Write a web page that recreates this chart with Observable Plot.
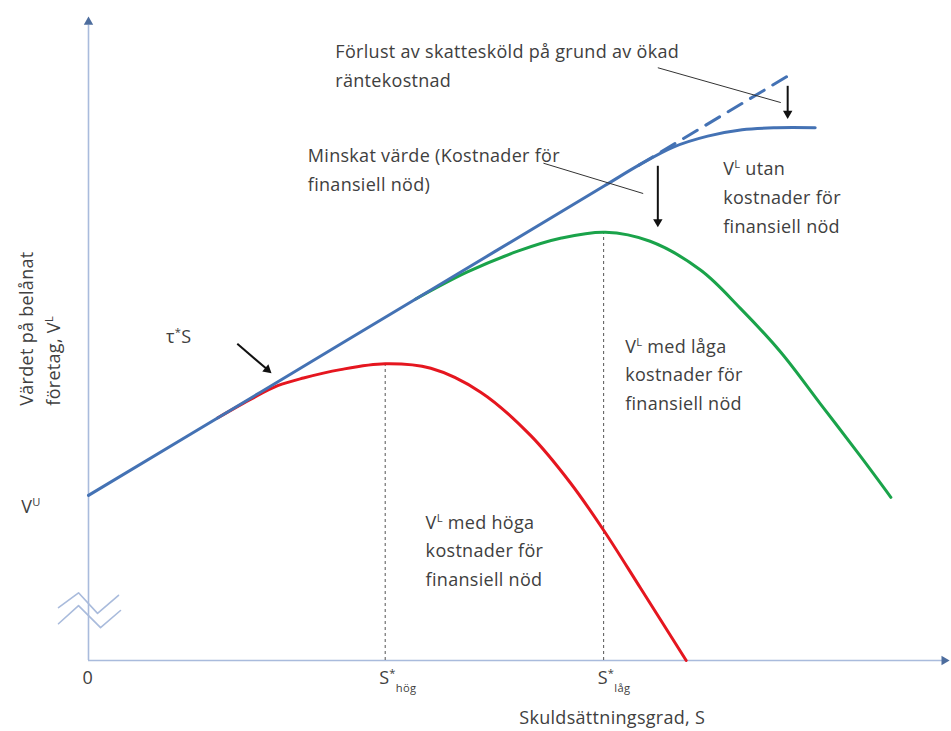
<!DOCTYPE html>
<html>
<head>
<meta charset="utf-8">
<script src="https://cdn.jsdelivr.net/npm/d3@7"></script>
<script src="https://cdn.jsdelivr.net/npm/@observablehq/plot@0.6"></script>
<style>
  html, body { margin: 0; padding: 0; background: #fff; }
  #chart svg { display: block; }
  #chart svg text { letter-spacing: 0.3px; }
</style>
</head>
<body>
<div id="chart"></div>
<script>
// ---- Data (conceptual units: S = skuldsättningsgrad 0–100, V = värde 0–100) ----
const blueS  = [0, 20, 40, 60, 64, 68, 72, 76, 80, 84.5];
const blueV  = [25.6, 41.6, 57.6, 73.6, 76.8, 79.6, 81.3, 82.3, 82.6, 82.6];
const dashS  = [64, 81.3];
const dashV  = [76.8, 90.6];
const greenS = [38, 44, 50, 55, 60.1, 65.3, 71.2, 75.8, 80.5, 85.1, 89.8, 93.3];
const greenV = [56.0, 60.2, 63.5, 65.5, 66.4, 65.0, 60.5, 54.6, 47.8, 39.8, 31.6, 25.3];
const redS   = [15, 19, 22, 25, 29.3, 34.5, 39.8, 45.6, 51.4, 56, 59.9, 64.2, 69.5];
const redV   = [37.6, 40.6, 42.6, 43.8, 45.1, 46.0, 45.3, 41.6, 34.9, 27.6, 20.2, 11.2, 0];
const optimaS = [34.5, 59.9];
const optimaV = [46.0, 66.4];
const tickS = [0, 34.5, 59.9];
const tickLabels = ["0", "S^{*}_{hög}", "S^{*}_{låg}"];
const vuValue = 25.6;
const vuLabel = "V^{U}";
const xTitle = "Skuldsättningsgrad, S";
const yTitle = "Värdet på belånat\nföretag, V^{L}";
const annotations = [
  {x: 28.7, y: 92.6, text: "Förlust av skattesköld på grund av ökad\nräntekostnad"},
  {x: 25.5, y: 76.5, text: "Minskat värde (Kostnader för\nfinansiell nöd)"},
  {x: 73.8, y: 72.2, text: "V^{L} utan\nkostnader för\nfinansiell nöd"},
  {x: 62.4, y: 44.7, text: "V^{L} med låga\nkostnader för\nfinansiell nöd"},
  {x: 39.2, y: 17.4, text: "V^{L} med höga\nkostnader för\nfinansiell nöd"},
  {x: 9.0,  y: 50.7, text: "τ^{*}S"}
];
const arrows = [
  {x1: 17.3, y1: 49.1, x2: 20.8, y2: 45.1},
  {x1: 81.3, y1: 89.1, x2: 81.3, y2: 84.8},
  {x1: 66.2, y1: 76.7, x2: 66.2, y2: 68.0}
];
const leaders = [
  {x1: 66.2, y1: 91.9, x2: 80.5, y2: 86.5},
  {x1: 52.9, y1: 77.1, x2: 64.5, y2: 72.4}
];
const breakA = [[-3.49, 8.2], [-1.16, 10.5], [1.05, 7.3], [3.49, 10.1]];
const breakB = [[-3.49, 5.7], [-1.16, 8.5], [1.40, 5.1], [3.72, 7.75]];

// ---- Scales ----
const X_DOMAIN = [0, 100], X_RANGE = [88, 948];
const Y_DOMAIN = [0, 100], Y_RANGE = [660, 15];
const kx = (X_RANGE[1] - X_RANGE[0]) / (X_DOMAIN[1] - X_DOMAIN[0]);
const ky = (Y_RANGE[1] - Y_RANGE[0]) / (Y_DOMAIN[1] - Y_DOMAIN[0]);

// ---- Tables built from arrays ----
const zip = (xs, ys) => xs.map((x, i) => ({x, y: ys[i]}));
const blue = zip(blueS, blueV);
const dash = zip(dashS, dashV);
const green = zip(greenS, greenV);
const red = zip(redS, redV);
const optima = zip(optimaS, optimaV);
const ticks = tickS.map((x, i) => ({x, label: tickLabels[i]}));
const arrowTips = arrows.map(a => {
  const dx = (a.x2 - a.x1) * kx, dy = (a.y2 - a.y1) * ky;
  return {x: a.x2, y: a.y2, angle: Math.atan2(dx, -dy) * 180 / Math.PI};
});

const FONT = "'Open Sans', Lato, sans-serif";
const TXT = "#404040";
const AXIS = "#a9bbdc";
const FS = 18;

const chart = Plot.plot({
  width: 951,
  height: 731,
  margin: 0,
  style: {fontFamily: FONT, fontSize: FS + "px", background: "#fff", overflow: "visible"},
  x: {domain: X_DOMAIN, range: X_RANGE, axis: null},
  y: {domain: Y_DOMAIN, range: Y_RANGE, axis: null},
  marks: [
    // axes
    Plot.ruleX([0], {y1: 0, y2: 98.5, stroke: AXIS, strokeWidth: 1.6}),
    Plot.ruleY([0], {x1: 0, x2: 99.3, stroke: AXIS, strokeWidth: 1.6}),
    Plot.dot([{x: 0, y: 99}], {x: "x", y: "y", symbol: "triangle2", r: 4.5, fill: "#4d6d9e", stroke: null}),
    Plot.dot([{x: 99.5, y: 0}], {x: "x", y: "y", symbol: "triangle2", r: 4.5, fill: "#4d6d9e", stroke: null, rotate: 90}),
    // axis break
    Plot.line(breakA, {x: d => d[0], y: d => d[1], stroke: AXIS, strokeWidth: 1.6}),
    Plot.line(breakB, {x: d => d[0], y: d => d[1], stroke: AXIS, strokeWidth: 1.6}),
    // dotted optimum lines
    Plot.ruleX(optima, {x: "x", y1: 0, y2: "y", stroke: "#555", strokeWidth: 1, strokeDasharray: "3,3"}),
    // curves
    Plot.line(dash, {x: "x", y: "y", stroke: "#4472b4", strokeWidth: 3, strokeDasharray: "16,10"}),
    Plot.line(green, {x: "x", y: "y", stroke: "#1aa34a", strokeWidth: 3, curve: "catmull-rom"}),
    Plot.line(red, {x: "x", y: "y", stroke: "#e5161f", strokeWidth: 3, curve: "catmull-rom"}),
    Plot.line(blue, {x: "x", y: "y", stroke: "#4472b4", strokeWidth: 3, curve: "catmull-rom"}),
    // leaders and arrows
    Plot.link(leaders, {x1: "x1", y1: "y1", x2: "x2", y2: "y2", stroke: "#333", strokeWidth: 1}),
    Plot.link(arrows, {x1: "x1", y1: "y1", x2: "x2", y2: "y2", stroke: "#111", strokeWidth: 2}),
    Plot.dot(arrowTips, {x: "x", y: "y", rotate: "angle", symbol: "triangle2", r: 4.5, fill: "#111", stroke: null}),
    // annotations
    Plot.text(annotations, {x: "x", y: "y", text: "text", textAnchor: "start", lineAnchor: "middle", lineHeight: 1.6, fill: TXT, fontSize: FS}),
    // tick labels
    Plot.text(ticks, {x: "x", y: -2.8, text: "label", textAnchor: "start", dx: -6, fill: TXT, fontSize: FS}),
    Plot.text([vuLabel], {x: -6.7, y: vuValue - 1.9, text: d => d, fill: TXT, fontSize: FS}),
    // axis titles
    Plot.text([xTitle], {x: 60.9, y: -9.0, text: d => d, fill: TXT, fontSize: FS}),
    Plot.text([yTitle], {x: -5.9, y: 39.5, text: d => d, rotate: -90, textAnchor: "start", lineAnchor: "middle", lineHeight: 1.5, fill: TXT, fontSize: FS})
  ]
});

// superscript / subscript markup -> tspans
function richify(svg) {
  const ns = "http://www.w3.org/2000/svg";
  svg.querySelectorAll("text, tspan").forEach(el => {
    if (el.children.length) return;
    const s = el.textContent;
    if (!/[\^_]\{/.test(s)) return;
    el.textContent = "";
    const re = /([\^_])\{([^}]*)\}/g;
    let last = 0, m;
    while ((m = re.exec(s))) {
      if (m.index > last) el.appendChild(document.createTextNode(s.slice(last, m.index)));
      const t = document.createElementNS(ns, "tspan");
      t.setAttribute("baseline-shift", m[1] === "^" ? "super" : "sub");
      t.setAttribute("font-size", "62%");
      t.textContent = m[2];
      el.appendChild(t);
      last = re.lastIndex;
    }
    if (last < s.length) el.appendChild(document.createTextNode(s.slice(last)));
  });
}
richify(chart);
document.getElementById("chart").appendChild(chart);
</script>
</body>
</html>
